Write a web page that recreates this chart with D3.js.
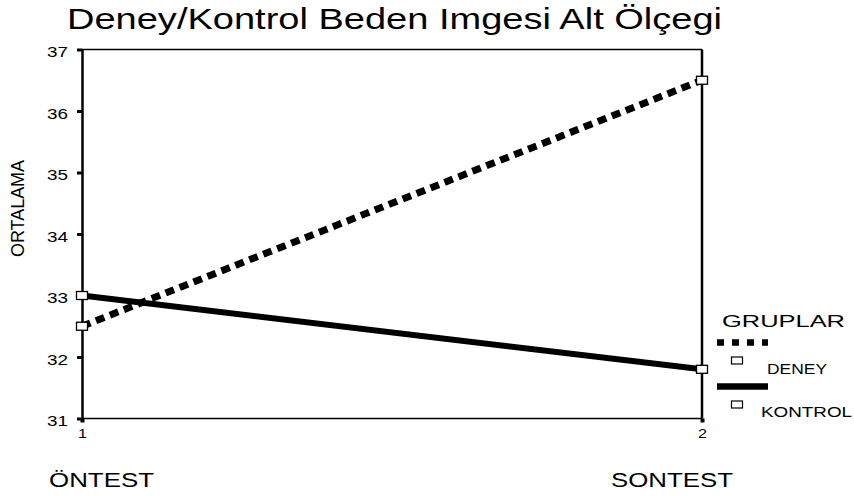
<!DOCTYPE html>
<html><head><meta charset="utf-8">
<script src="https://cdn.jsdelivr.net/npm/d3@7"></script>
<style>body{margin:0;background:#fff}svg{display:block}text{font-family:"Liberation Sans",Arial,sans-serif;fill:#000}</style>
</head><body><svg id="c" width="854" height="496"></svg>
<script>
const categories = [1, 2];
const categoryNames = ["ÖNTEST", "SONTEST"];
const seriesNames = ["DENEY", "KONTROL"];
const deney = [32.5, 36.5];
const kontrol = [33.0, 31.8];
const yTicks = [31, 32, 33, 34, 35, 36, 37];

const svg = d3.select("#c");
const L = 82, R = 702, T = 49.5, B = 418.5;
const x = d3.scaleLinear().domain([1, 2]).range([L, R]);
const y = d3.scaleLinear().domain([31, 37]).range([B, T]);
const FF = '"Liberation Sans",Arial,sans-serif';

function txt(xp, yp, size, len, s) {
  return svg.append("text").attr("x", xp).attr("y", yp).attr("font-size", size)
    .attr("textLength", len).attr("lengthAdjust", "spacingAndGlyphs").text(s);
}

txt(67, 29, 29, 655, "Deney/Kontrol Beden Imgesi Alt Ölçegi");

// frame
svg.append("line").attr("x1", L).attr("x2", R).attr("y1", T).attr("y2", T).attr("stroke", "#000").attr("stroke-width", 1.5);
svg.append("line").attr("x1", L).attr("x2", R).attr("y1", B).attr("y2", B).attr("stroke", "#000").attr("stroke-width", 1.5);
svg.append("line").attr("x1", R).attr("x2", R).attr("y1", T).attr("y2", B).attr("stroke", "#000").attr("stroke-width", 2.5);

const ya = svg.append("g").attr("transform", `translate(${L},0)`)
  .call(d3.axisLeft(y).tickValues(yTicks).tickSize(5).tickSizeOuter(0).tickFormat(d3.format("d")));
ya.select(".domain").attr("stroke-width", 2.5);
ya.selectAll(".tick line").attr("stroke-width", 3);
ya.selectAll(".tick text").attr("font-size", 15.5).attr("text-anchor", "start")
  .attr("x", -35).attr("dy", "0.47em").attr("textLength", 21).attr("lengthAdjust", "spacingAndGlyphs")
  .style("font-family", FF);

const xa = svg.append("g").attr("transform", `translate(0,${B})`)
  .call(d3.axisBottom(x).tickValues(categories).tickSize(4).tickFormat(d3.format("d")));
xa.select(".domain").remove();
xa.selectAll(".tick line").attr("stroke-width", 4);
xa.selectAll(".tick text").attr("font-size", 12.5).attr("y", 19.5).attr("dy", 0)
  .attr("textLength", 9).attr("lengthAdjust", "spacingAndGlyphs").style("font-family", FF);

svg.append("text").attr("transform", "translate(23.5,208.5) rotate(-90)").attr("text-anchor", "middle")
  .attr("font-size", 19).attr("textLength", 97).attr("lengthAdjust", "spacingAndGlyphs").text("ORTALAMA");

txt(49, 487, 20, 105, categoryNames[0]);
txt(611, 487, 20, 122, categoryNames[1]);

const line = d3.line().x((d, i) => x(categories[i])).y(d => y(d));
svg.append("path").datum(deney).attr("d", line).attr("fill", "none").attr("stroke", "#000")
  .attr("stroke-width", 7).attr("stroke-dasharray", "9,6");
svg.append("path").datum(kontrol).attr("d", line).attr("fill", "none").attr("stroke", "#000")
  .attr("stroke-width", 6);

[deney, kontrol].forEach(s => {
  svg.selectAll(null).data(s).enter().append("rect")
    .attr("x", (d, i) => x(categories[i]) - 5.5).attr("y", d => y(d) - 4)
    .attr("width", 11).attr("height", 8).attr("fill", "#fff").attr("stroke", "#000").attr("stroke-width", 1.3);
});

// legend
txt(722, 327, 16.5, 123, "GRUPLAR");
svg.append("line").attr("x1", 717).attr("x2", 768).attr("y1", 342.5).attr("y2", 342.5)
  .attr("stroke", "#000").attr("stroke-width", 6.5).attr("stroke-dasharray", "7,8");
svg.append("rect").attr("x", 731.5).attr("y", 357).attr("width", 11).attr("height", 7)
  .attr("fill", "#fff").attr("stroke", "#000").attr("stroke-width", 1.2);
txt(767, 374, 14, 60, seriesNames[0]);
svg.append("line").attr("x1", 717).attr("x2", 768).attr("y1", 386.5).attr("y2", 386.5)
  .attr("stroke", "#000").attr("stroke-width", 6.5);
svg.append("rect").attr("x", 731.5).attr("y", 401).attr("width", 11).attr("height", 7)
  .attr("fill", "#fff").attr("stroke", "#000").attr("stroke-width", 1.2);
txt(761, 416.5, 14.5, 91, seriesNames[1]);
</script></body></html>
